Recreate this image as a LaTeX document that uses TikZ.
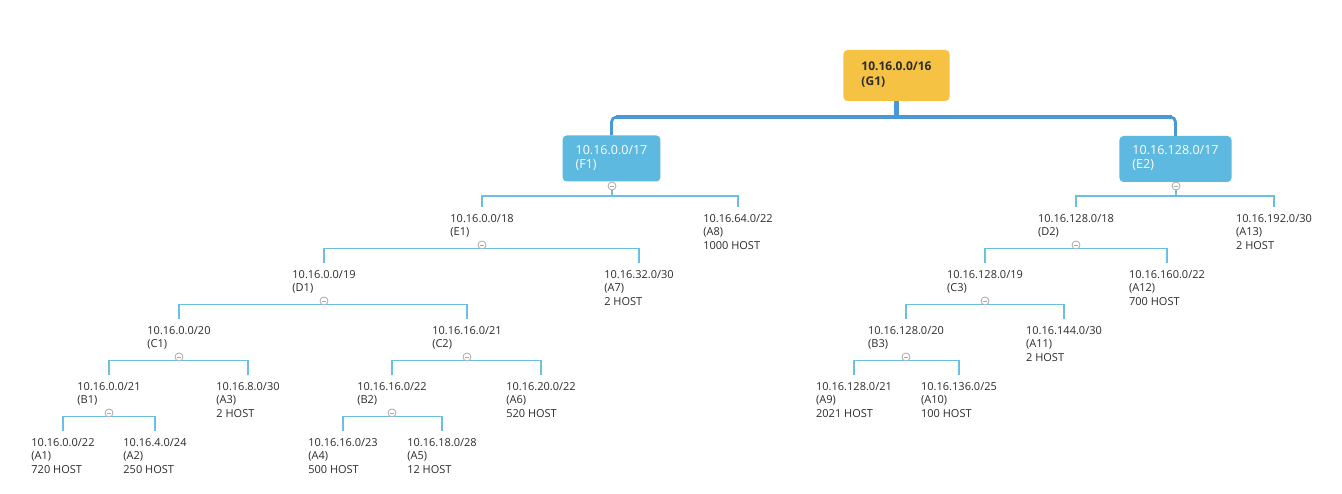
\documentclass[tikz,border=0pt]{standalone}
\usepackage{fontspec}
\setmainfont{Open Sans}
\usetikzlibrary{calc,backgrounds}
\definecolor{rootfill}{HTML}{F5C244}
\definecolor{boxfill}{HTML}{5DB9DF}
\definecolor{bigline}{HTML}{4A98D6}
\definecolor{thinline}{HTML}{6DBFE2}
\definecolor{txt}{HTML}{2B2B2B}
\definecolor{ccol}{HTML}{A8A8A8}
\newcommand{\boxlines}[2]{\raisebox{-2pt}{\begin{tabular}{@{}l@{}}#1\\#2\end{tabular}}}
\begin{document}
\begin{tikzpicture}[x=1pt,y=-1pt,
  rootbox/.style={fill=rootfill, rounded corners=4pt, inner xsep=18pt, minimum width=105pt, minimum height=51pt, text=txt, font=\fontsize{12}{15}\selectfont\bfseries},
  bluebox/.style={fill=boxfill, rounded corners=4pt, inner xsep=13pt, minimum height=46pt, text=white, font=\fontsize{12.5}{14}\selectfont},
  topic/.style={anchor=north, inner xsep=0pt, inner ysep=7pt, align=left, text=txt, font=\fontsize{11}{13.5}\selectfont},
  collapse/.style={circle, draw=ccol, fill=white, line width=0.8pt, minimum size=8pt, inner sep=0pt},
  conn/.style={draw=thinline, line width=1.5pt},
  mainlink/.style={draw=bigline}
]
\useasboundingbox (0,0) rectangle (1342,494);

% main boxes
\node[rootbox] (G1) at (896.5,75.5) {\boxlines{10.16.0.0/16}{(G1)}};
\node[bluebox] (F1) at (611.5,158.5) {\boxlines{10.16.0.0/17}{(F1)}};
\node[bluebox] (E2) at (1175.5,159) {\boxlines{10.16.128.0/17}{(E2)}};

% level 1
\node[topic] (E1) at (482,207) {10.16.0.0/18\\(E1)};
\node[topic] (A8) at (738,207) {10.16.64.0/22\\(A8)\\1000 HOST};
\node[topic] (D2) at (1076,207) {10.16.128.0/18\\(D2)};
\node[topic] (A13) at (1274,207) {10.16.192.0/30\\(A13)\\2 HOST};
% level 2
\node[topic] (D1) at (324,263) {10.16.0.0/19\\(D1)};
\node[topic] (A7) at (639,263) {10.16.32.0/30\\(A7)\\2 HOST};
\node[topic] (C3) at (985,263) {10.16.128.0/19\\(C3)};
\node[topic] (A12) at (1167,263) {10.16.160.0/22\\(A12)\\700 HOST};
% level 3
\node[topic] (C1) at (179,319) {10.16.0.0/20\\(C1)};
\node[topic] (C2) at (467,319) {10.16.16.0/21\\(C2)};
\node[topic] (B3) at (906,319) {10.16.128.0/20\\(B3)};
\node[topic] (A11) at (1064,319) {10.16.144.0/30\\(A11)\\2 HOST};
% level 4
\node[topic] (B1) at (109,375) {10.16.0.0/21\\(B1)};
\node[topic] (A3) at (248,375) {10.16.8.0/30\\(A3)\\2 HOST};
\node[topic] (B2) at (392,375) {10.16.16.0/22\\(B2)};
\node[topic] (A6) at (541,375) {10.16.20.0/22\\(A6)\\520 HOST};
\node[topic] (A9) at (854,375) {10.16.128.0/21\\(A9)\\2021 HOST};
\node[topic] (A10) at (959,375) {10.16.136.0/25\\(A10)\\100 HOST};
% level 5
\node[topic] (A1) at (63,431) {10.16.0.0/22\\(A1)\\720 HOST};
\node[topic] (A2) at (155,431) {10.16.4.0/24\\(A2)\\250 HOST};
\node[topic] (A4) at (343,431) {10.16.16.0/23\\(A4)\\500 HOST};
\node[topic] (A5) at (442,431) {10.16.18.0/28\\(A5)\\12 HOST};

% collapse markers
\newcommand{\minusmark}{\textcolor{ccol}{\rule{4.4pt}{0.9pt}}}
\node[collapse] (cF1) at (612,186) {\minusmark};
\node[collapse] (cE2) at (1176,186) {\minusmark};
\node[collapse] (cE1) at (482,245) {\minusmark};
\node[collapse] (cD1) at (324,301) {\minusmark};
\node[collapse] (cC1) at (179,357) {\minusmark};
\node[collapse] (cB1) at (109,413) {\minusmark};
\node[collapse] (cC2) at (467,357) {\minusmark};
\node[collapse] (cB2) at (392,413) {\minusmark};
\node[collapse] (cD2) at (1076,245) {\minusmark};
\node[collapse] (cC3) at (985,301) {\minusmark};
\node[collapse] (cB3) at (906,357) {\minusmark};

\begin{scope}[on background layer]
  \coordinate (hub) at (896.5,117);
  \draw[mainlink, line width=4.3pt] (G1.south) -- (hub);
  \draw[mainlink, line width=2.8pt, rounded corners=5pt] (F1.north) |- (hub) -| (E2.north);
  \draw[mainlink, line width=4.6pt] ($(F1.north|-hub)+(4,0)$) -- ($(E2.north|-hub)+(-4,0)$);

  \draw[conn] (cF1.center) -- ++(0,10) -| (E1.north);
  \draw[conn] (cF1.center) -- ++(0,10) -| (A8.north);
  \draw[conn] (cE2.center) -- ++(0,10) -| (D2.north);
  \draw[conn] (cE2.center) -- ++(0,10) -| (A13.north);

  \draw[conn] (cE1.center) -- ++(0,3.5) -| (D1.north);
  \draw[conn] (cE1.center) -- ++(0,3.5) -| (A7.north);
  \draw[conn] (cD1.center) -- ++(0,3.5) -| (C1.north);
  \draw[conn] (cD1.center) -- ++(0,3.5) -| (C2.north);
  \draw[conn] (cC1.center) -- ++(0,3.5) -| (B1.north);
  \draw[conn] (cC1.center) -- ++(0,3.5) -| (A3.north);
  \draw[conn] (cB1.center) -- ++(0,3.5) -| (A1.north);
  \draw[conn] (cB1.center) -- ++(0,3.5) -| (A2.north);
  \draw[conn] (cC2.center) -- ++(0,3.5) -| (B2.north);
  \draw[conn] (cC2.center) -- ++(0,3.5) -| (A6.north);
  \draw[conn] (cB2.center) -- ++(0,3.5) -| (A4.north);
  \draw[conn] (cB2.center) -- ++(0,3.5) -| (A5.north);

  \draw[conn] (cD2.center) -- ++(0,3.5) -| (C3.north);
  \draw[conn] (cD2.center) -- ++(0,3.5) -| (A12.north);
  \draw[conn] (cC3.center) -- ++(0,3.5) -| (B3.north);
  \draw[conn] (cC3.center) -- ++(0,3.5) -| (A11.north);
  \draw[conn] (cB3.center) -- ++(0,3.5) -| (A9.north);
  \draw[conn] (cB3.center) -- ++(0,3.5) -| (A10.north);
\end{scope}
\end{tikzpicture}
\end{document}
